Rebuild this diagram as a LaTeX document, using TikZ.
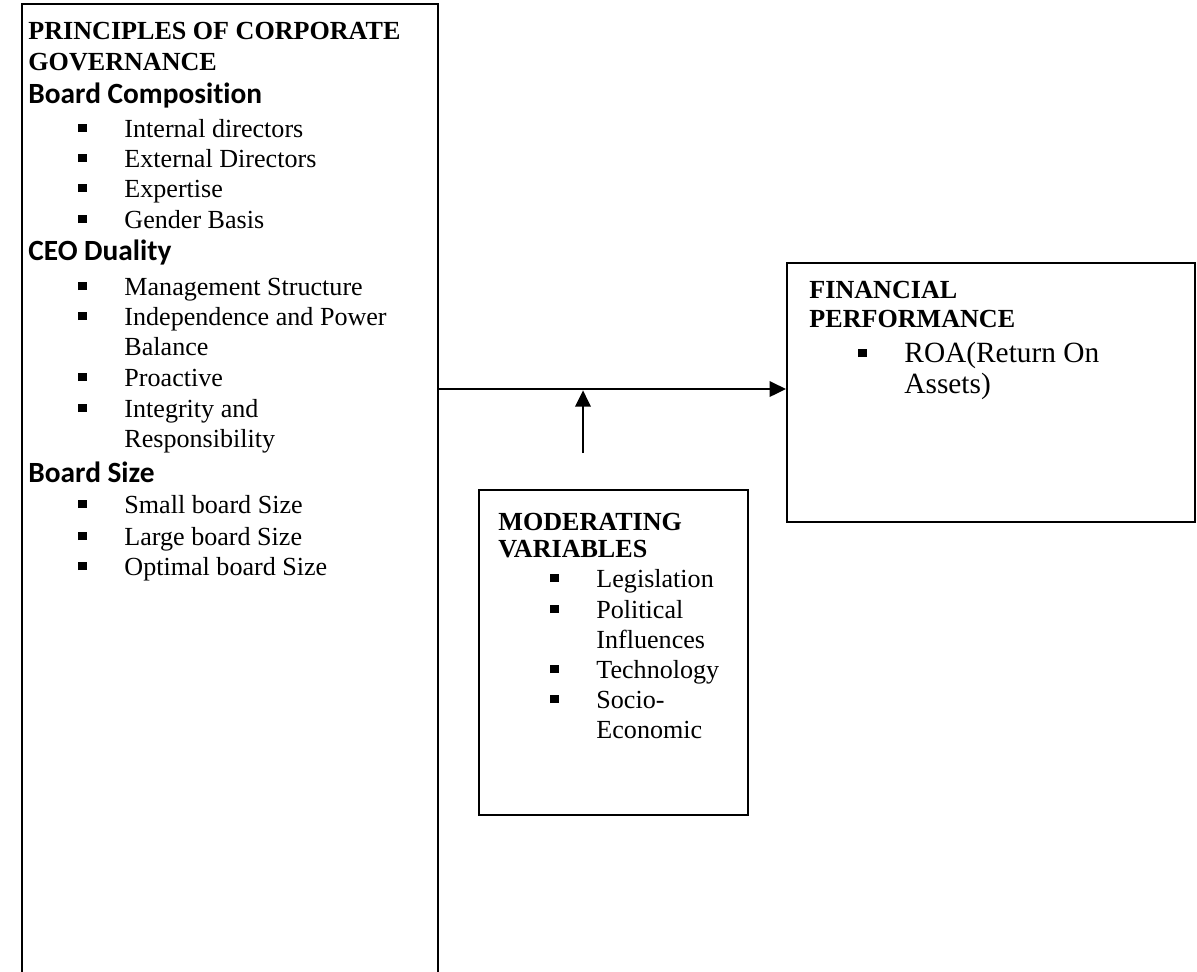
\documentclass[tikz,border=0pt]{standalone}
\usepackage{fontspec}
\setmainfont{Liberation Serif}
\newfontfamily\calibri[Ligatures=NoCommon]{Carlito}
\usetikzlibrary{arrows.meta,fit}

% square bullet, hung left of the item text
\newcommand{\bul}{\llap{\rule[2.3pt]{3.8pt}{3.8pt}\hspace{17.4pt}}}

\tikzset{
  box/.style={draw,line width=0.95pt,inner sep=0pt},
  title/.style={anchor=base west,inner sep=0pt,font=\fontsize{12}{14}\selectfont\bfseries},
  group/.style={anchor=base west,inner sep=0pt,font=\calibri\fontsize{13.5}{16}\selectfont\bfseries},
  entry/.style={anchor=base west,inner sep=0pt,font=\fontsize{12}{14}\selectfont},
  flow/.style={-{Triangle[length=7.5pt,width=7pt]},line width=1.3pt}
}

\begin{document}
\begin{tikzpicture}[x=0.46pt,y=-0.46pt]
\useasboundingbox (0,0) rectangle (1197,971);
\clip (0,0) rectangle (1197,971);

% the three boxes; the left one runs past the bottom edge
\node[box,fit={(22,4) (438,1010)}] (cg) {};
\node[box,fit={(479,490) (748,815)}] (mod) {};
\node[box,fit={(787,263) (1195,522)}] (fin) {};

% principles of corporate governance
\node[title] (cg-t1) at (28,39) {PRINCIPLES OF CORPORATE};
\node[title] (cg-t2) at (28,70) {GOVERNANCE};
\node[group] (cg-g1) at (28,103) {Board Composition};
\node[group] (cg-g2) at (28,260) {CEO Duality};
\node[group] (cg-g3) at (28,482) {Board Size};
\foreach \y/\t [count=\i] in {137/\bul Internal directors, 167/\bul External Directors,
    197/\bul Expertise, 228/\bul Gender Basis, 295/\bul Management Structure,
    325/\bul Independence and Power, 355/Balance, 386/\bul Proactive,
    417/\bul Integrity and, 447/Responsibility, 513/\bul Small board Size,
    545/\bul Large board Size, 575/\bul Optimal board Size}
  \node[entry] (cg-\i) at (124,\y) {\t};

% moderating variables
\node[title] (mod-t1) at (498,530) {MODERATING};
\node[title] (mod-t2) at (498,557) {VARIABLES};
\foreach \y/\t [count=\i] in {587/\bul Legislation, 618/\bul Political, 648/Influences,
    678/\bul Technology, 708/\bul Socio-, 738/Economic}
  \node[entry] (mod-\i) at (596,\y) {\t};

% financial performance
\node[title] (fin-t1) at (809,298) {FINANCIAL};
\node[title] (fin-t2) at (809,327) {PERFORMANCE};
\node[entry,font=\fontsize{13.5}{16}\selectfont] (fin-1) at (904,362) {\bul ROA(Return On};
\node[entry,font=\fontsize{13.5}{16}\selectfont] (fin-2) at (904,393) {Assets)};

% main link and the moderating arrow up to it
\coordinate (join) at (583,389);
\coordinate (modtail) at (583,453);
\draw[flow] (cg.east |- join) -- (fin.west |- join);
\draw[flow,shorten >=0.6pt] (modtail) -- (join);
\end{tikzpicture}
\end{document}
